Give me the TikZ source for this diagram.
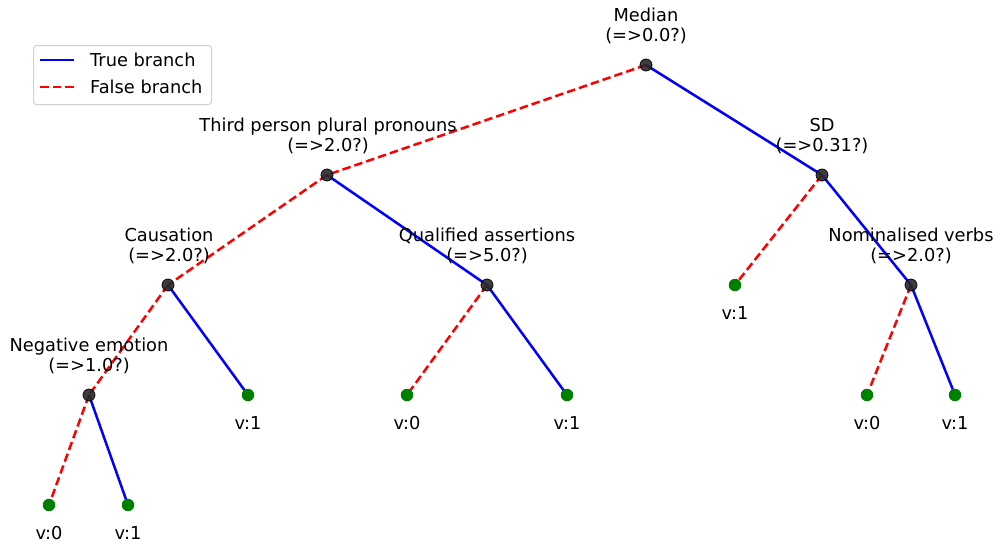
\documentclass[tikz,border=0pt]{standalone}
\usepackage{fontspec}
\setmainfont{DejaVu Sans}
\definecolor{leafgreen}{RGB}{0,128,0}
\definecolor{innergray}{RGB}{40,40,40}
\begin{document}
\begin{tikzpicture}[x=1pt,y=-1pt,
  truebr/.style={draw=blue,line width=2.5pt},
  falsebr/.style={draw=red,line width=2.5pt,dash pattern=on 8.5pt off 4pt},
  inner/.style={circle,fill=innergray,draw=black,line width=0.8pt,minimum size=12pt,inner sep=0pt,opacity=0.9},
  leaf/.style={circle,fill=leafgreen,minimum size=12.5pt,inner sep=0pt},
  lbl/.style={align=center,font=\fontsize{17.8}{20.5}\selectfont,inner sep=0pt},
  leaflbl/.style={font=\fontsize{17.8}{20.5}\selectfont,inner sep=0pt},
  legtxt/.style={font=\fontsize{17.8}{20.5}\selectfont,inner sep=0pt,anchor=west}]
\useasboundingbox (0,0) rectangle (997,546);
% node positions
\coordinate (median) at (646,65);
\coordinate (third) at (327,175);
\coordinate (sd) at (822,175);
\coordinate (caus) at (168,285);
\coordinate (qual) at (487,285);
\coordinate (sdl) at (735,285);
\coordinate (nom) at (911,285);
\coordinate (neg) at (89,395);
\coordinate (causl) at (248,395);
\coordinate (qual0) at (407,395);
\coordinate (qual1) at (567,395);
\coordinate (nom0) at (867,395);
\coordinate (nom1) at (955,395);
\coordinate (neg0) at (49,505);
\coordinate (neg1) at (128,505);
% edges
\draw[falsebr] (median) -- (third);
\draw[truebr] (median) -- (sd);
\draw[falsebr] (third) -- (caus);
\draw[truebr] (third) -- (qual);
\draw[falsebr] (sd) -- (sdl);
\draw[truebr] (sd) -- (nom);
\draw[falsebr] (caus) -- (neg);
\draw[truebr] (caus) -- (causl);
\draw[falsebr] (qual) -- (qual0);
\draw[truebr] (qual) -- (qual1);
\draw[falsebr] (nom) -- (nom0);
\draw[truebr] (nom) -- (nom1);
\draw[falsebr] (neg) -- (neg0);
\draw[truebr] (neg) -- (neg1);
% inner nodes
\foreach \n in {median,third,sd,caus,qual,nom,neg}
  \node[inner] (d\n) at (\n) {};
% leaves
\foreach \n in {sdl,causl,qual0,qual1,nom0,nom1,neg0,neg1}
  \node[leaf] (d\n) at (\n) {};
% inner labels
\node[lbl] (tmedian) at (646,26) {Median\\(=>0.0?)};
\node[lbl] (tthird) at (328,136) {Third person plural pronouns\\(=>2.0?)};
\node[lbl] (tsd) at (822,136) {SD\\(=>0.31?)};
\node[lbl] (tcaus) at (169,246) {Causation\\(=>2.0?)};
\node[lbl] (tqual) at (487,246) {Qualified assertions\\(=>5.0?)};
\node[lbl] (tnom) at (911,246) {Nominalised verbs\\(=>2.0?)};
\node[lbl] (tneg) at (89,356) {Negative emotion\\(=>1.0?)};
% leaf labels
\node[leaflbl] (tsdl) at (735,313) {v:1};
\node[leaflbl] (tcausl) at (248,423) {v:1};
\node[leaflbl] (tqual0) at (407,423) {v:0};
\node[leaflbl] (tqual1) at (567,423) {v:1};
\node[leaflbl] (tnom0) at (867,423) {v:0};
\node[leaflbl] (tnom1) at (955,423) {v:1};
\node[leaflbl] (tneg0) at (49,533) {v:0};
\node[leaflbl] (tneg1) at (128,533) {v:1};
% legend
\node[draw=black!18,line width=1pt,rounded corners=3pt,minimum width=178pt,minimum height=59pt,anchor=north west,inner sep=0pt] (legend) at (33,45) {};
\coordinate (lt1) at (40,60);
\coordinate (lt2) at (74,60);
\coordinate (lf1) at (40,87);
\coordinate (lf2) at (74,87);
\draw[truebr] (lt1) -- (lt2);
\draw[falsebr] (lf1) -- (lf2);
\node[legtxt] (ltt) at (90,60) {True branch};
\node[legtxt] (lft) at (90,87) {False branch};
\end{tikzpicture}
\end{document}
